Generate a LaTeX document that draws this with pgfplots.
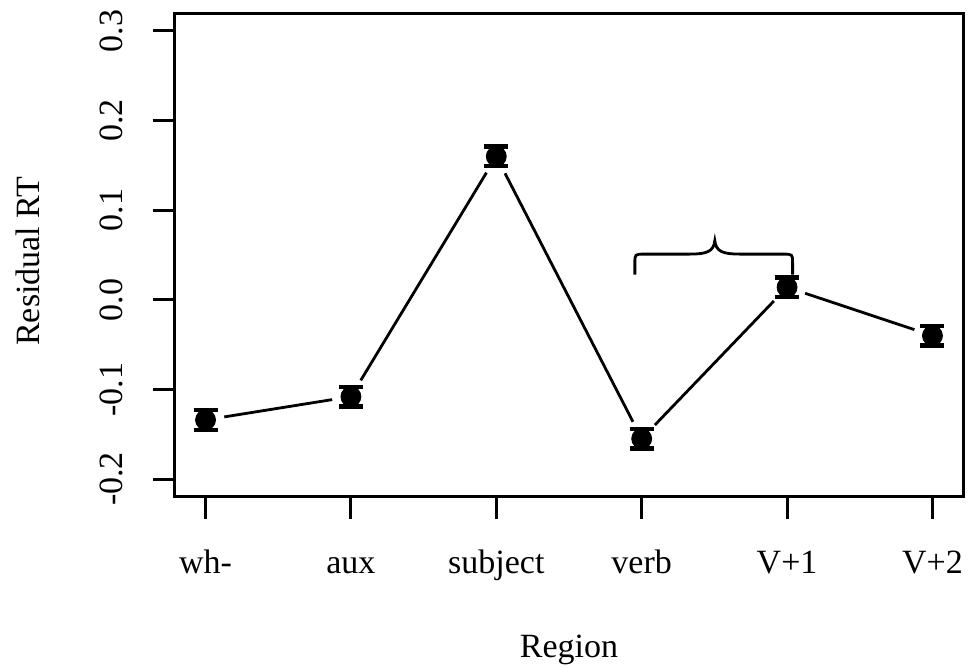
\documentclass[border=0pt]{standalone}
\usepackage{pgfplots}
\pgfplotsset{compat=1.18}
\usepackage{fontspec}
\setmainfont{Liberation Serif}
\begin{document}
\begin{tikzpicture}
\begin{axis}[
  scale only axis,
  width=394pt, height=242pt,
  xmin=0.79, xmax=6.21,
  ymin=-0.22, ymax=0.32,
  axis line style={line width=1.5pt},
  every tick/.style={black, line width=1.5pt},
  tick align=outside,
  major tick length=11pt,
  xtick={1,2,3,4,5,6},
  xticklabels={wh-,aux,subject,verb,V+1,V+2},
  ytick={-0.2,-0.1,0,0.1,0.2,0.3},
  yticklabels={-0.2,-0.1,0.0,0.1,0.2,0.3},
  xtick pos=bottom, ytick pos=left,
  font=\fontsize{17}{20}\selectfont,
  xticklabel style={anchor=base, inner sep=0pt, yshift=-27.5pt},
  yticklabel style={xshift=-15pt, rotate=90, anchor=base, inner sep=0pt},
  every axis x label/.style={at={(axis description cs:0.5,0)}, yshift=-80pt, anchor=base, inner sep=0pt},
  every axis y label/.style={at={(axis description cs:0,0.487)}, xshift=-67.5pt, rotate=90, anchor=base, inner sep=0pt},
  xlabel={Region},
  ylabel={Residual RT},
  clip=false,
]
\addplot[black, line width=1.4pt, shorten <=9.5pt, shorten >=9.5pt] coordinates {(1,-0.134) (2,-0.108)};
\addplot[black, line width=1.4pt, shorten <=9.5pt, shorten >=9.5pt] coordinates {(2,-0.108) (3,0.160)};
\addplot[black, line width=1.4pt, shorten <=9.5pt, shorten >=9.5pt] coordinates {(3,0.160) (4,-0.155)};
\addplot[black, line width=1.4pt, shorten <=9.5pt, shorten >=9.5pt] coordinates {(4,-0.155) (5,0.014)};
\addplot[black, line width=1.4pt, shorten <=9.5pt, shorten >=9.5pt] coordinates {(5,0.014) (6,-0.040)};
\addplot[black, only marks, mark=*, mark size=5pt,
  error bars/.cd, y dir=both, y explicit,
  error mark=|, error mark options={line width=2.2pt, mark size=6pt, black},
  error bar style={line width=1.5pt, black}]
  coordinates {
  (1,-0.134) +- (0,0.011)
  (2,-0.108) +- (0,0.011)
  (3,0.160) +- (0,0.011)
  (4,-0.155) +- (0,0.011)
  (5,0.014) +- (0,0.011)
  (6,-0.040) +- (0,0.011)
  };
\draw[black, line width=1.4pt]
  (axis cs:3.953,0.028) -- (axis cs:3.953,0.041)
  .. controls (axis cs:3.953,0.051) .. (axis cs:4.02,0.051)
  -- (axis cs:4.33,0.051)
  .. controls (axis cs:4.45,0.051) and (axis cs:4.495,0.054) .. (axis cs:4.503,0.066)
  .. controls (axis cs:4.511,0.054) and (axis cs:4.556,0.051) .. (axis cs:4.676,0.051)
  -- (axis cs:4.97,0.051)
  .. controls (axis cs:5.038,0.051) .. (axis cs:5.038,0.041)
  -- (axis cs:5.038,0.028);
\end{axis}
\pgfresetboundingbox
\path ([xshift=-87.5pt,yshift=-85.5pt]current axis.south west) rectangle ([xshift=8pt,yshift=6.5pt]current axis.north east);
\end{tikzpicture}
\end{document}
